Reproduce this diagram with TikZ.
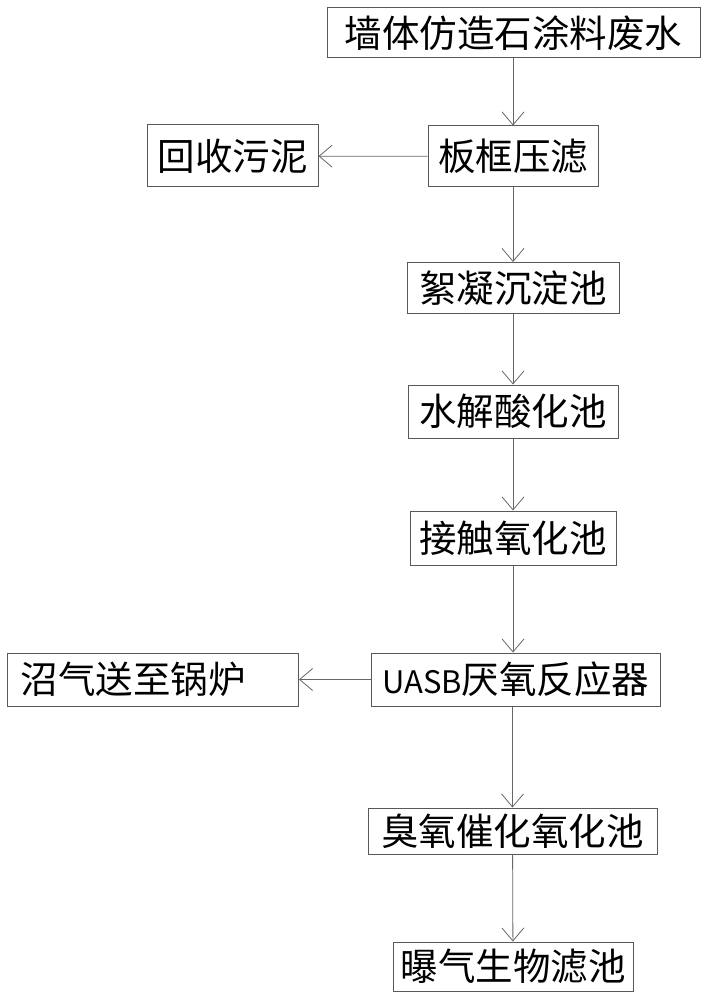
\documentclass[tikz,border=0pt]{standalone}
\usepackage{fontspec}
\setmainfont{Noto Sans CJK SC}
\usetikzlibrary{arrows.meta}
\tikzset{>={Straight Barb[length=13pt,width=22pt]}}
\tikzset{
  box/.style={draw=black!65, line width=1pt, inner sep=0pt,
    font=\fontsize{37.5}{42}\selectfont},
  flow/.style={->, draw=black!60, line width=0.8pt}
}

\begin{document}
\begin{tikzpicture}[x=1pt, y=-1pt]
	\useasboundingbox (0,0) rectangle (708,1000);
	\node [box, minimum width=373, minimum height=50] (waste) at (513.5,33) {墙体仿造石涂料废水};
	\node [box, minimum width=170, minimum height=61] (press) at (513,156.5) {板框压滤};
	\node [box, minimum width=171, minimum height=62] (sludge) at (232.5,156) {回收污泥};
	\node [box, minimum width=212, minimum height=51] (floc) at (513,288) {絮凝沉淀池};
	\node [box, minimum width=210, minimum height=53] (hydro) at (513,411.5) {水解酸化池};
	\node [box, minimum width=206, minimum height=54] (contact) at (513,538) {接触氧化池};
	\node [box, minimum width=289, minimum height=53] (uasb) at (516,679.5) {{\fontsize{31}{40}\selectfont UASB}厌氧反应器};
	\node [box, minimum height=53, inner xsep=13pt, text width=265pt, align=left] (biogas) at (153,679.5) {沼气送至锅炉};
	\node [box, minimum width=289, minimum height=46] (ozone) at (512.5,831) {臭氧催化氧化池};
	\node [box, minimum width=240, minimum height=49] (bio) at (513,966.5) {曝气生物滤池};
	% main line
	\draw [flow] (waste.south -| press) -- (press.north);
	\draw [flow] (press) -- (floc);
	\draw [flow] (floc) -- (hydro);
	\draw [flow] (hydro) -- (contact);
	\draw [flow] (contact.south) -- (contact.south |- uasb.north);
	\draw [flow] (uasb.south -| ozone) -- (ozone.north);
	\draw [flow] (ozone) -- (bio);
	% side outputs
	\draw [flow] (press) -- (sludge);
	\draw [flow] (uasb) -- (biogas);
\end{tikzpicture}
\end{document}
